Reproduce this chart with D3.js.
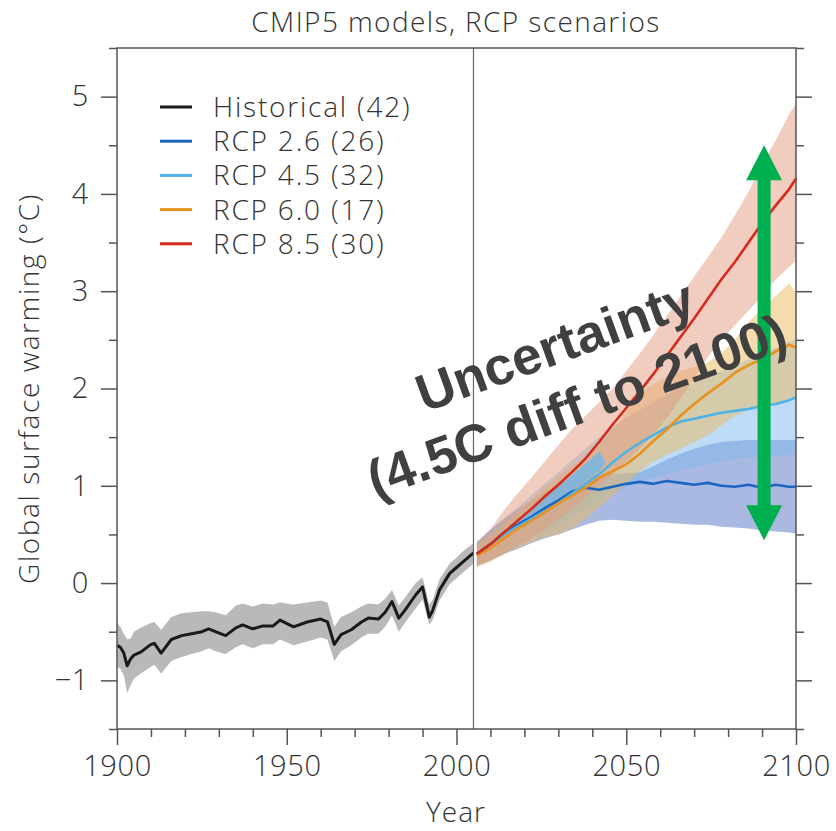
<!DOCTYPE html>
<html lang="en">
<head>
<meta charset="utf-8">
<style>
  body { margin: 0; background: #fff; }
  svg { display: block; }
  text { font-family: "Open Sans", "Noto Sans", sans-serif; font-weight: 300; fill: #333; }
</style>
</head>
<body>
<svg id="chart" width="836" height="831"></svg>
<script src="https://cdn.jsdelivr.net/npm/d3@7"></script>
<script>
// historical run, multi-model mean and spread
var histYears = [1900,1901,1902,1903,1904,1905,1907,1910,1911,1913,1916,1919,1922,1925,1927,1929,1932,1935,1937,1940,1943,1946,1948,1952,1956,1960,1962,1964,1966,1969,1972,1974,1977,1979,1981,1983,1985,1988,1990,1992,1993,1995,1998,2000,2002,2005];
var histMean  = [-0.64,-0.66,-0.72,-0.85,-0.78,-0.74,-0.71,-0.63,-0.62,-0.72,-0.58,-0.54,-0.52,-0.50,-0.47,-0.50,-0.54,-0.46,-0.43,-0.47,-0.44,-0.44,-0.38,-0.45,-0.40,-0.37,-0.40,-0.63,-0.53,-0.48,-0.40,-0.36,-0.37,-0.30,-0.19,-0.36,-0.27,-0.12,-0.04,-0.35,-0.28,-0.07,0.10,0.16,0.22,0.31];
var histLo    = [-0.86,-0.88,-0.95,-1.13,-1.05,-0.98,-0.93,-0.86,-0.84,-0.93,-0.80,-0.76,-0.73,-0.70,-0.67,-0.70,-0.73,-0.66,-0.63,-0.67,-0.63,-0.63,-0.58,-0.64,-0.60,-0.56,-0.58,-0.80,-0.70,-0.64,-0.56,-0.52,-0.52,-0.45,-0.33,-0.50,-0.40,-0.26,-0.17,-0.43,-0.38,-0.18,-0.01,0.05,0.11,0.20];
var histHi    = [-0.41,-0.45,-0.52,-0.58,-0.57,-0.50,-0.46,-0.41,-0.40,-0.48,-0.35,-0.31,-0.30,-0.29,-0.29,-0.30,-0.33,-0.23,-0.21,-0.24,-0.21,-0.22,-0.20,-0.22,-0.20,-0.18,-0.20,-0.45,-0.35,-0.30,-0.24,-0.21,-0.22,-0.16,-0.07,-0.23,-0.14,0.00,0.06,-0.22,-0.17,0.04,0.20,0.26,0.33,0.41];

// scenario runs
var rcpYears = [2006,2010,2014,2018,2022,2026,2030,2034,2038,2042,2046,2050,2054,2058,2062,2066,2070,2074,2078,2082,2086,2090,2094,2098,2100];

var rcp26Mean = [0.30,0.40,0.52,0.60,0.68,0.77,0.85,0.94,0.98,0.96,0.99,1.02,1.04,1.02,1.05,1.03,1.01,1.03,1.00,0.99,1.01,0.98,1.01,0.99,0.99];
var rcp26Hi   = [0.42,0.55,0.66,0.76,0.85,0.93,1.00,1.06,1.10,1.12,1.12,1.13,1.14,1.20,1.27,1.33,1.38,1.42,1.45,1.46,1.47,1.47,1.47,1.47,1.47];
var rcp26Lo   = [0.17,0.23,0.30,0.35,0.41,0.46,0.50,0.55,0.60,0.64,0.65,0.64,0.63,0.63,0.62,0.61,0.60,0.60,0.58,0.57,0.56,0.54,0.53,0.52,0.51];

var rcp45Mean = [0.30,0.40,0.50,0.58,0.66,0.74,0.82,0.92,1.02,1.12,1.24,1.35,1.44,1.52,1.60,1.66,1.69,1.72,1.75,1.77,1.79,1.82,1.84,1.88,1.91];
var rcp45Hi   = [0.42,0.54,0.66,0.78,0.90,1.02,1.14,1.26,1.38,1.50,1.60,1.70,1.78,1.86,1.94,2.00,2.06,2.12,2.18,2.24,2.30,2.36,2.42,2.48,2.50];
var rcp45Lo   = [0.18,0.25,0.32,0.40,0.47,0.54,0.60,0.68,0.76,0.84,0.92,0.98,1.04,1.08,1.12,1.16,1.19,1.22,1.25,1.27,1.29,1.30,1.31,1.32,1.32];
// brighter inner 4.5 strip seen between 2018 and 2044
var rcp45InnerYears = [2018,2022,2026,2030,2034,2038,2042,2044];
var rcp45InnerLo    = [0.60,0.68,0.77,0.86,0.95,1.05,1.15,1.24];
var rcp45InnerHi    = [0.62,0.74,0.87,0.99,1.11,1.23,1.35,1.24];

var rcp60Mean = [0.28,0.36,0.46,0.56,0.64,0.73,0.82,0.90,0.98,1.08,1.15,1.22,1.33,1.46,1.58,1.72,1.84,1.95,2.05,2.16,2.24,2.30,2.38,2.45,2.42];
var rcp60Hi   = [0.40,0.50,0.62,0.74,0.86,0.98,1.10,1.20,1.30,1.42,1.58,1.75,1.95,2.05,2.12,2.18,2.22,2.27,2.36,2.50,2.68,2.82,2.95,3.08,2.98];
var rcp60Lo   = [0.17,0.22,0.30,0.36,0.42,0.47,0.50,0.56,0.66,0.78,0.90,1.02,1.15,1.25,1.32,1.38,1.45,1.52,1.62,1.72,1.78,1.82,1.85,1.88,1.88];

var rcp85Mean = [0.30,0.40,0.52,0.64,0.76,0.89,1.01,1.14,1.28,1.45,1.63,1.80,1.97,2.15,2.34,2.53,2.72,2.92,3.12,3.30,3.50,3.70,3.88,4.05,4.16];
var rcp85Hi   = [0.42,0.55,0.75,0.92,1.08,1.25,1.42,1.58,1.72,1.86,2.00,2.18,2.36,2.55,2.75,2.95,3.15,3.35,3.55,3.78,4.02,4.30,4.55,4.82,4.93];
var rcp85Lo   = [0.18,0.24,0.30,0.38,0.46,0.55,0.65,0.76,0.88,1.00,1.12,1.25,1.38,1.53,1.70,1.90,2.10,2.32,2.50,2.65,2.80,2.95,3.12,3.25,3.32];

var legendNames  = ["Historical", "RCP 2.6", "RCP 4.5", "RCP 6.0", "RCP 8.5"];
var legendCounts = [42, 26, 32, 17, 30];
var lineColors   = ["#1a1a1a", "#1a66c2", "#4db3e8", "#e8921f", "#d52a1e"];
// band colours are drawn at 50% opacity
var bandColors   = ["#b9b9b9", "#5573c3", "#7db9eb", "#ebb95f", "#e19b7d"];

var yMajor = [-1, 0, 1, 2, 3, 4, 5];
var yMinor = [-1.5, -0.5, 0.5, 1.5, 2.5, 3.5, 4.5, 5.5];
var xMajor = [1900, 1950, 2000, 2050, 2100];
var xMinor = [1910,1920,1930,1940,1960,1970,1980,1990,2010,2020,2030,2040,2060,2070,2080,2090];

var svg = d3.select("#chart");

var x = d3.scaleLinear().domain([1900, 2100]).range([117, 796]);
var y = d3.scaleLinear().domain([-1.5, 5.5]).range([729, 48]);

function zipBand(years, lo, hi) {
    return years.map(function(yr, i) { return {x: yr, lo: lo[i], hi: hi[i]}; });
}
function zipLine(years, v) {
    return years.map(function(yr, i) { return {x: yr, v: v[i]}; });
}

var area = d3.area()
    .x(function(d) { return x(d.x); })
    .y0(function(d) { return y(d.lo); })
    .y1(function(d) { return y(d.hi); });

var line = d3.line()
    .x(function(d) { return x(d.x); })
    .y(function(d) { return y(d.v); });

var scen = [
    {lo: rcp26Lo, hi: rcp26Hi, mean: rcp26Mean, c: 1},
    {lo: rcp45Lo, hi: rcp45Hi, mean: rcp45Mean, c: 2},
    {lo: rcp60Lo, hi: rcp60Hi, mean: rcp60Mean, c: 3},
    {lo: rcp85Lo, hi: rcp85Hi, mean: rcp85Mean, c: 4}
];

// bands
svg.append("path")
    .attr("d", area(zipBand(histYears, histLo, histHi)))
    .attr("fill", bandColors[0]);
scen.forEach(function(s) {
    svg.append("path")
        .attr("d", area(zipBand(rcpYears, s.lo, s.hi)))
        .attr("fill", bandColors[s.c])
        .attr("fill-opacity", 0.5);
});
svg.append("path")
    .attr("d", area(zipBand(rcp45InnerYears, rcp45InnerLo, rcp45InnerHi)))
    .attr("fill", "#6fb6e8")
    .attr("fill-opacity", 0.8);

// mean lines
svg.append("path")
    .attr("d", line(zipLine(histYears, histMean)))
    .attr("fill", "none")
    .attr("stroke", lineColors[0])
    .attr("stroke-width", 3)
    .attr("stroke-linejoin", "round");
scen.forEach(function(s) {
    svg.append("path")
        .attr("d", line(zipLine(rcpYears, s.mean)))
        .attr("fill", "none")
        .attr("stroke", lineColors[s.c])
        .attr("stroke-width", 2.6)
        .attr("stroke-linejoin", "round");
});

// 2005 divider
svg.append("line")
    .attr("x1", x(2005)).attr("x2", x(2005))
    .attr("y1", y(5.5)).attr("y2", y(-1.5))
    .attr("stroke", "#666").attr("stroke-width", 1.2);

// axes
var axisColor = "#555";
function styleAxis(g) {
    g.select(".domain").remove();
    g.selectAll(".tick line").attr("stroke", axisColor).attr("stroke-width", 1.5);
    g.selectAll(".tick text")
        .style("font-family", '"Open Sans", sans-serif')
        .style("font-weight", 300)
        .style("font-size", "29px")
        .style("letter-spacing", "0.6px")
        .attr("fill", "#333");
}

svg.append("g").attr("transform", "translate(" + x(1900) + ",0)")
    .call(d3.axisLeft(y).tickValues(yMajor).tickSize(16).tickPadding(12).tickFormat(d3.format("d")))
    .call(styleAxis);
svg.append("g").attr("transform", "translate(" + x(1900) + ",0)")
    .call(d3.axisLeft(y).tickValues(yMinor).tickSize(8).tickFormat(""))
    .call(styleAxis);
svg.append("g").attr("transform", "translate(" + x(2100) + ",0)")
    .call(d3.axisRight(y).tickValues(yMajor).tickSize(16).tickFormat(""))
    .call(styleAxis);
svg.append("g").attr("transform", "translate(" + x(2100) + ",0)")
    .call(d3.axisRight(y).tickValues(yMinor).tickSize(8).tickFormat(""))
    .call(styleAxis);
svg.append("g").attr("transform", "translate(0," + y(-1.5) + ")")
    .call(d3.axisBottom(x).tickValues(xMajor).tickSize(16).tickPadding(10).tickFormat(d3.format("d")))
    .call(styleAxis);
svg.append("g").attr("transform", "translate(0," + y(-1.5) + ")")
    .call(d3.axisBottom(x).tickValues(xMinor).tickSize(8).tickFormat(""))
    .call(styleAxis);

// frame
svg.append("rect")
    .attr("x", x(1900)).attr("y", y(5.5))
    .attr("width", x(2100) - x(1900)).attr("height", y(-1.5) - y(5.5))
    .attr("fill", "none").attr("stroke", axisColor).attr("stroke-width", 1.5);

// titles
svg.append("text")
    .attr("x", 456).attr("y", 32)
    .attr("text-anchor", "middle")
    .style("font-size", "28px")
    .style("letter-spacing", "1.4px")
    .text("CMIP5 models, RCP scenarios");

svg.append("text")
    .attr("x", 456).attr("y", 822)
    .attr("text-anchor", "middle")
    .style("font-size", "28px")
    .style("letter-spacing", "1px")
    .text("Year");

svg.append("text")
    .attr("transform", "translate(39," + y(2) + ") rotate(-90)")
    .attr("text-anchor", "middle")
    .style("font-size", "28px")
    .style("letter-spacing", "1.6px")
    .text("Global surface warming (°C)");

// legend
var legend = svg.append("g").attr("transform", "translate(160,107)");
legendNames.forEach(function(name, i) {
    var row = legend.append("g").attr("transform", "translate(0," + (i * 34.2) + ")");
    row.append("line")
        .attr("x1", 0).attr("x2", 32)
        .attr("stroke", lineColors[i]).attr("stroke-width", 3);
    row.append("text")
        .attr("x", 53).attr("y", 10)
        .style("font-size", "28px")
        .style("letter-spacing", "1.8px")
        .text(name + " (" + legendCounts[i] + ")");
});

// uncertainty arrow
var ax = x(2090.6), yTop = y(4.5), yBot = y(0.44);
var head = 35, hw = 18, sw = 6.5;
svg.append("path")
    .attr("d", "M" + ax + "," + yTop +
        "L" + (ax + hw) + "," + (yTop + head) +
        "L" + (ax + sw) + "," + (yTop + head) +
        "L" + (ax + sw) + "," + (yBot - head) +
        "L" + (ax + hw) + "," + (yBot - head) +
        "L" + ax + "," + yBot +
        "L" + (ax - hw) + "," + (yBot - head) +
        "L" + (ax - sw) + "," + (yBot - head) +
        "L" + (ax - sw) + "," + (yTop + head) +
        "L" + (ax - hw) + "," + (yTop + head) + "Z")
    .attr("fill", "#00b050");

var note = svg.append("g").attr("transform", "translate(566,376) rotate(-20)");
note.append("text")
    .attr("y", -14)
    .attr("text-anchor", "middle")
    .style("font-family", '"Liberation Sans", Arial, sans-serif')
    .style("font-weight", "bold")
    .style("font-size", "53px")
    .style("fill", "#404040")
    .text("Uncertainty");
note.append("text")
    .attr("y", 50)
    .attr("text-anchor", "middle")
    .style("font-family", '"Liberation Sans", Arial, sans-serif')
    .style("font-weight", "bold")
    .style("font-size", "53px")
    .style("fill", "#404040")
    .text("(4.5C diff to 2100)");
</script>
</body>
</html>
